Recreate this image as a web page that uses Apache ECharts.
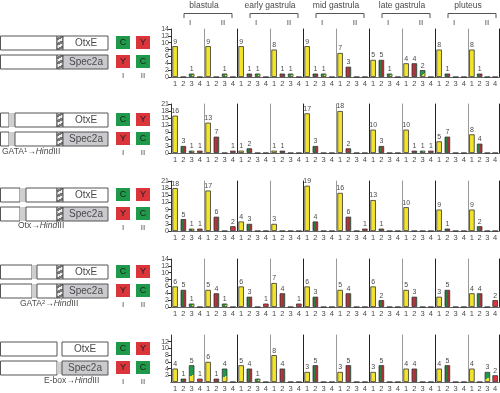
<!DOCTYPE html>
<html><head><meta charset="utf-8">
<script src="https://cdn.jsdelivr.net/npm/echarts@6/dist/echarts.min.js"></script>
<style>html,body{margin:0;padding:0;background:#fff}#c{width:500px;height:393px}</style>
</head><body><div id="c"></div>
<script>
// ---------- data ----------
const stages = ['blastula', 'early gastrula', 'mid gastrula', 'late gastrula', 'pluteus'];
const constructs = ['I', 'II'];
const categories = ['1', '2', '3', '4'];
const rowNames = ['wild type', 'GATA1→HindIII', 'Otx→HindIII', 'GATA2→HindIII', 'E-box→HindIII'];
const rowMax = [14, 21, 21, 14, 14];
const rowInterval = [2, 3, 3, 2, 2];
// each row: 10 panels (stage x construct I/II), each with counts for categories 1-4
const wildType = [[9,0,1,0],[9,0,1,0],[9,1,1,0],[8,1,1,0],[9,1,1,0],[7,3,0,0],[5,5,1,0],[4,4,2,0],[8,1,0,0],[8,1,0,0]];
const gata1    = [[16,3,1,1],[13,7,0,1],[1,2,0,0],[1,1,0,0],[17,3,0,0],[18,2,0,0],[10,3,0,0],[10,1,1,1],[5,7,0,0],[8,4,0,0]];
const otx      = [[18,5,1,1],[17,6,0,2],[4,3,0,0],[3,0,0,0],[19,4,0,0],[16,6,0,1],[13,1,0,0],[10,0,0,0],[9,1,0,0],[9,2,0,0]];
const gata2    = [[6,5,1,0],[5,4,1,0],[6,3,0,1],[7,4,0,1],[6,3,0,0],[5,4,0,0],[6,2,0,0],[5,3,0,0],[3,5,0,0],[4,4,0,2]];
const ebox     = [[4,1,5,1],[6,1,4,0],[5,4,1,0],[8,4,0,0],[3,5,0,0],[3,5,0,0],[3,5,0,0],[4,4,0,0],[4,5,0,0],[4,0,3,2]];
const rows = [wildType, gata1, otx, gata2, ebox];

// ---------- style / layout ----------
const FONT = 'Liberation Sans, Arial, sans-serif';
const TXT = '#4a4a4a';
const yellow = '#f2e42c', red = '#d9353b', green = '#1f9a4b', dred = '#a8323a', dgreen = '#2d7d3e';
const G = echarts.graphic;
const catColor = [
  yellow,
  new G.LinearGradient(0,0,1,0,[
    {offset:0,color:dred},{offset:0.25,color:dred},{offset:0.25,color:dgreen},{offset:0.5,color:dgreen},
    {offset:0.5,color:dred},{offset:0.75,color:dred},{offset:0.75,color:dgreen},{offset:1,color:dgreen}]),
  new G.LinearGradient(0,0,1,1,[{offset:0,color:green},{offset:0.6,color:green},{offset:0.6,color:yellow},{offset:1,color:yellow}]),
  red
];
const rowTop = [29, 104, 181, 259, 335];
const rowH = [48, 49, 50, 48, 47];
const barTop = [36, 113, 188, 265, 342];
const PL = 171, PW = 33;

const grids = [], xAxes = [], yAxes = [], series = [];
rows.forEach((rowData, r) => {
  rowData.forEach((vals, p) => {
    const g = grids.length;
    grids.push({left: PL + PW * p, top: rowTop[r], width: PW, height: rowH[r]});
    xAxes.push({gridIndex: g, type: 'category', data: categories,
      axisLine: {lineStyle: {color: '#333', width: 1}}, axisTick: {show: false},
      axisLabel: {fontSize: 7.5, color: TXT, margin: 3, fontFamily: FONT}});
    xAxes.push({gridIndex: g, type: 'category', data: categories, position: 'top',
      axisLine: {lineStyle: {color: '#666', width: 1}}, axisTick: {show: false}, axisLabel: {show: false}});
    yAxes.push({gridIndex: g, type: 'value', min: 0, max: rowMax[r], interval: rowInterval[r],
      axisLine: {show: p === 0, lineStyle: {color: '#333'}},
      axisTick: {show: p === 0, length: 3, lineStyle: {color: '#333'}},
      axisLabel: {show: p === 0, fontSize: 7, lineHeight: 7, color: TXT, margin: 2, fontFamily: FONT},
      splitLine: {show: false}});
    yAxes.push({gridIndex: g, type: 'value', min: 0, max: rowMax[r], position: 'right',
      axisLine: {show: true, lineStyle: {color: p % 2 === 0 ? '#999' : '#222', width: 1}},
      axisTick: {show: false}, axisLabel: {show: false}, splitLine: {show: false}});
    series.push({
      type: 'bar', name: rowNames[r] + ' ' + stages[Math.floor(p/2)] + ' ' + constructs[p%2],
      xAxisIndex: 2 * g, yAxisIndex: 2 * g, barWidth: 5.5, silent: true,
      data: vals.map((v, i) => ({value: v, itemStyle: {color: catColor[i], borderColor: '#333', borderWidth: 0.8}})),
      label: {show: true, position: 'top', distance: 1, fontSize: 7, color: TXT, fontFamily: FONT,
        formatter: d => d.value > 0 ? String(d.value) : ''}
    });
  });
});

// ---------- header & schematic (decorative graphics) ----------
const gfx = [];
stages.forEach((s, i) => {
  const x0 = PL + PW * 2 * i;
  gfx.push({type: 'text', x: x0 + PW, y: 6, style: {text: s, fill: TXT, fontSize: 8.5, fontFamily: FONT, align: 'center', verticalAlign: 'middle'}});
  gfx.push({type: 'polyline', shape: {points: [[x0 + 13, 18], [x0 + 13, 13.5], [x0 + 2*PW - 5, 13.5], [x0 + 2*PW - 5, 18]]},
    style: {stroke: '#555', fill: null, lineWidth: 1}});
  constructs.forEach((c, j) => {
    gfx.push({type: 'text', x: x0 + PW * j + 19, y: 23, style: {text: c, fill: TXT, fontSize: 8, fontFamily: FONT, align: 'center', verticalAlign: 'middle'}});
  });
});

const hatch = new G.LinearGradient(0,0,1,1,(() => {
  const st = []; const n = 7;
  for (let k = 0; k < n; k++) {
    const c = k % 2 ? '#777' : '#eee';
    st.push({offset: k / n, color: c}, {offset: (k + 1) / n, color: c});
  }
  return st;
})());
function rect(x, y, w, h, fill, stroke) {
  gfx.push({type: 'rect', shape: {x, y, width: w, height: h}, style: {fill, stroke: stroke || null, lineWidth: 1}});
}
function txt(x, y, t, size, align, extra) {
  gfx.push({type: 'text', x, y, style: Object.assign({text: t, fill: TXT, fontSize: size, fontFamily: FONT, align: align || 'center', verticalAlign: 'middle'}, extra || {})});
}
const strips = [null, [9, 15], [20, 26], [32, 37], null];
const BH = 14;
barTop.forEach((y1, r) => {
  const y2 = y1 + 19;
  [y1, y2].forEach((y, k) => {
    const s = strips[r];
    if (s) {
      rect(0.5, y, s[0] - 0.5, BH, '#fff', '#555');
      rect(s[0], y, s[1] - s[0], BH, '#cfcfd2', null);
      rect(s[1], y, 57 - s[1], BH, '#fff', '#555');
    } else {
      rect(0.5, y, 56.5, BH, '#fff', '#555');
    }
    if (r < 4) {
      rect(57, y, 6, BH, hatch, '#555');
      rect(63, y, 45, BH, k === 0 ? '#fff' : '#c9c9ce', '#555');
    } else {
      if (k === 1) rect(57, y + 1, 5, BH - 2, '#cfcfd2', null);
      rect(62, y, 46, BH, k === 0 ? '#fff' : '#c9c9ce', '#555');
    }
    txt(r < 4 ? 86 : 85, y + BH / 2 + 0.5, k === 0 ? 'OtxE' : 'Spec2a', 10);
    // C / Y boxes
    const first = k === 0 ? ['C', green] : ['Y', red];
    const second = k === 0 ? ['Y', red] : ['C', green];
    rect(116, y, 14, 13, first[1], null);
    rect(136, y, 14, 13, second[1], null);
    txt(123, y + 7, first[0], 9, 'center', {fill: '#222'});
    txt(143, y + 7, second[0], 9, 'center', {fill: '#222'});
  });
  txt(123, y2 + BH + 7, 'I', 8);
  txt(143, y2 + BH + 7, 'II', 8);
});
const richStyle = {a: {fontSize: 8.5, fill: TXT, fontFamily: FONT}, s: {fontSize: 6, fill: TXT, fontFamily: FONT, verticalAlign: 'top'}, i: {fontSize: 8.5, fill: TXT, fontFamily: FONT, fontStyle: 'italic'}};
function label(x, y, t) {
  gfx.push({type: 'text', x, y, style: {text: t, rich: richStyle, align: 'left', verticalAlign: 'middle'}});
}
label(2, barTop[1] + 19 + BH + 6, '{a|GATA}{s|1}{a|→}{i|Hind}{a|III}');
label(18, barTop[2] + 19 + BH + 5, '{a|Otx→}{i|Hind}{a|III}');
label(20, barTop[3] + 19 + BH + 6, '{a|GATA}{s|2}{a|→}{i|Hind}{a|III}');
label(44, barTop[4] + 19 + BH + 6, '{a|E-box→}{i|Hind}{a|III}');

const chart = echarts.init(document.getElementById('c'), null, {renderer: 'canvas'});
chart.setOption({
  animation: false,
  textStyle: {fontFamily: FONT},
  grid: grids, xAxis: xAxes, yAxis: yAxes, series: series,
  graphic: {elements: gfx}
});
</script>
</body></html>
